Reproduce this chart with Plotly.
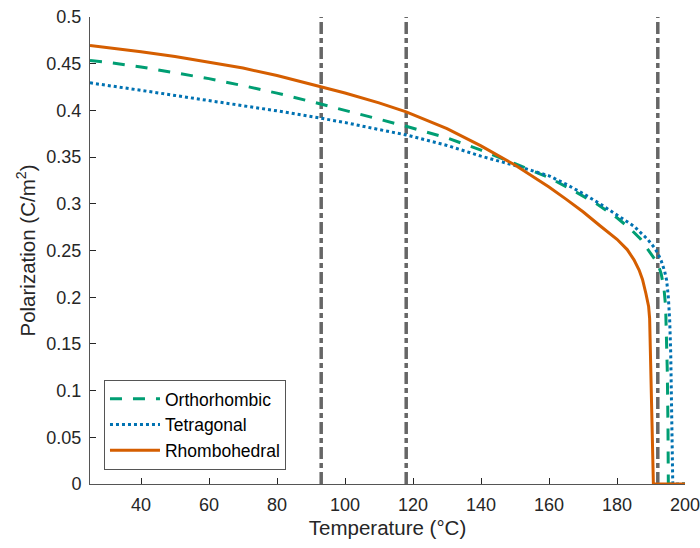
import plotly.graph_objects as go

# Temperature (°C) and spontaneous polarization (C/m^2) for each phase
T_ortho = [25, 30, 40, 50, 60, 70, 80, 90, 100, 110, 118, 130, 140, 150, 160, 167, 174,
           180, 184, 187, 190, 192, 193, 193.8, 194.3, 194.6, 194.8, 195, 195.1, 200]
P_ortho = [0.4535, 0.4515, 0.4465, 0.4405, 0.434, 0.4265, 0.4185, 0.4095, 0.400, 0.391,
           0.383, 0.3705, 0.3575, 0.343, 0.328, 0.3145, 0.300, 0.285, 0.273, 0.262, 0.247,
           0.236, 0.225, 0.21, 0.19, 0.16, 0.12, 0.06, 0.0, 0.0]

T_tetra = [25, 30, 40, 50, 60, 70, 80, 90, 100, 110, 118, 130, 140, 150, 160, 165, 170,
           175, 180, 185, 189, 191, 192, 193, 194, 194.6, 195.1, 195.5, 195.8, 196.1,
           196.3, 196.4, 200]
P_tetra = [0.4295, 0.427, 0.4215, 0.416, 0.4105, 0.4055, 0.3995, 0.3935, 0.387, 0.3795,
           0.3737, 0.3625, 0.351, 0.341, 0.330, 0.321, 0.311, 0.300, 0.288, 0.276, 0.262,
           0.253, 0.247, 0.239, 0.228, 0.218, 0.20, 0.175, 0.14, 0.08, 0.03, 0.0, 0.0]

T_rhombo = [25, 30, 40, 50, 60, 70, 80, 90, 100, 110, 118, 130, 140, 150, 155, 160, 165,
            170, 175, 180, 183, 185, 186.5, 187.5, 188.5, 189.3, 189.6, 190.0, 190.4,
            190.7, 200]
P_rhombo = [0.4694, 0.4673, 0.4629, 0.4577, 0.4519, 0.4453, 0.4373, 0.4283, 0.4186,
            0.408, 0.3985, 0.3805, 0.362, 0.3415, 0.330, 0.318, 0.305, 0.2915, 0.2765,
            0.262, 0.251, 0.240, 0.229, 0.219, 0.204, 0.19, 0.177, 0.12, 0.05, 0.0, 0.0]

# Phase-transition temperatures marked with vertical lines
T_transitions = [93, 118, 192]

x_range = [25, 200]
y_range = [0, 0.5]
x_ticks = [40, 60, 80, 100, 120, 140, 160, 180, 200]
y_ticks = [0, 0.05, 0.1, 0.15, 0.2, 0.25, 0.3, 0.35, 0.4, 0.45, 0.5]
y_ticktext = ["0", "0.05", "0.1", "0.15", "0.2", "0.25", "0.3", "0.35", "0.4", "0.45", "0.5"]

FONT = "Liberation Sans, Arial, Helvetica, sans-serif"
TXT = "#262626"

fig = go.Figure()

for t in T_transitions:
    fig.add_trace(go.Scatter(
        x=[t, t], y=y_range, mode="lines", showlegend=False, hoverinfo="skip",
        line=dict(color="#666666", width=3.5, dash="12px,4px,5px,4px"),
    ))

fig.add_trace(go.Scatter(
    x=T_ortho, y=P_ortho, mode="lines", name="Orthorhombic",
    line=dict(color="#009E73", width=3, dash="12px,11px"),
))
fig.add_trace(go.Scatter(
    x=T_tetra, y=P_tetra, mode="lines", name="Tetragonal",
    line=dict(color="#0072B2", width=3, dash="3px,3px"),
))
fig.add_trace(go.Scatter(
    x=T_rhombo, y=P_rhombo, mode="lines", name="Rhombohedral",
    line=dict(color="#D55E00", width=3),
))

axis_common = dict(
    showgrid=False, zeroline=False, showline=True, linecolor="#555555", linewidth=1,
    ticks="inside", ticklen=6, tickcolor="#262626", tickwidth=1,
    tickfont=dict(family=FONT, size=18, color=TXT),
    mirror=False, automargin=False, ticklabeloverflow="allow",
)

fig.update_layout(
    width=700, height=548,
    margin=dict(l=90, r=15, t=17, b=64),
    paper_bgcolor="white", plot_bgcolor="white",
    font=dict(family=FONT, color=TXT),
    xaxis=dict(
        range=x_range, tickvals=x_ticks, ticktext=[str(v) for v in x_ticks],
        ticklabelstandoff=4,
        title=dict(text="Temperature (°C)", font=dict(family=FONT, size=20.5, color=TXT), standoff=7),
        **axis_common,
    ),
    yaxis=dict(
        range=y_range, tickvals=y_ticks, ticktext=y_ticktext,
        ticklabelstandoff=4,
        title=dict(text="Polarization (C/m<sup>2</sup>)", font=dict(family=FONT, size=20.5, color=TXT), standoff=5),
        **axis_common,
    ),
    legend=dict(
        x=0.0235, y=0.03, xanchor="left", yanchor="bottom",
        bgcolor="white", bordercolor="#555555", borderwidth=1,
        font=dict(family=FONT, size=17.5, color="#000000"),
        itemwidth=50, tracegroupgap=0,
    ),
)

fig.write_html("out.html")
